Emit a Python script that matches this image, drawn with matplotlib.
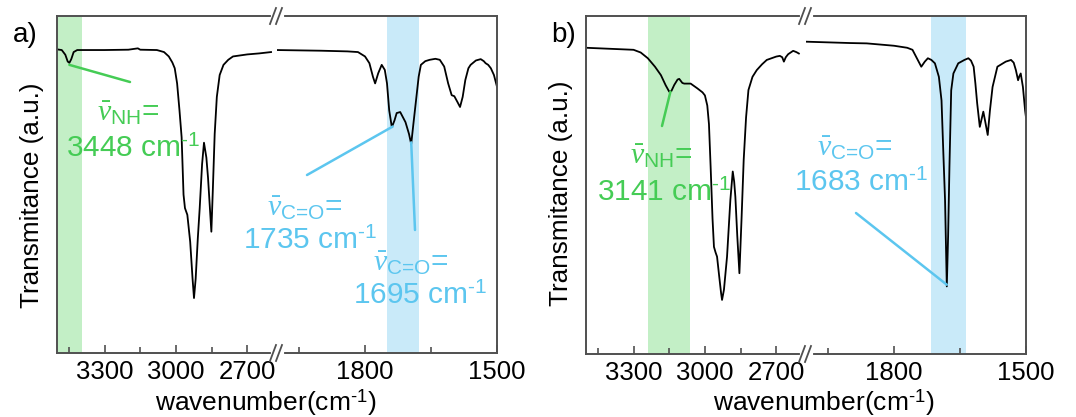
import matplotlib
matplotlib.use("Agg")
import matplotlib.pyplot as plt
from matplotlib.lines import Line2D
from matplotlib.transforms import IdentityTransform

plt.rcParams['font.family'] = ['Liberation Sans', 'DejaVu Sans']
plt.rcParams['mathtext.fontset'] = 'custom'
plt.rcParams['mathtext.rm'] = 'Liberation Sans'
plt.rcParams['mathtext.it'] = 'Liberation Serif:italic'
plt.rcParams['mathtext.bf'] = 'Liberation Sans:bold'

# ---------------- data ----------------
# panel a, high-wavenumber segment
a_wn_hi = [3500, 3480, 3465, 3455, 3448, 3440, 3430, 3415, 3300, 3200, 3160, 3150, 3080, 3050,
           3030, 3015, 3005, 2995, 2985, 2976, 2968, 2962, 2952, 2940, 2930, 2924, 2917, 2908,
           2900, 2890, 2882, 2872, 2865, 2858, 2851, 2845, 2837, 2828, 2816, 2800, 2780, 2760,
           2700, 2650, 2600]
a_t_hi = [0.901, 0.899, 0.885, 0.865, 0.861, 0.872, 0.893, 0.899, 0.899, 0.900, 0.904, 0.900,
          0.899, 0.893, 0.880, 0.862, 0.845, 0.800, 0.720, 0.640, 0.470, 0.430, 0.410, 0.330,
          0.220, 0.163, 0.220, 0.340, 0.430, 0.560, 0.624, 0.580, 0.520, 0.440, 0.360, 0.480,
          0.650, 0.760, 0.825, 0.855, 0.870, 0.880, 0.886, 0.889, 0.893]
# panel a, low-wavenumber segment
a_wn_lo = [2000, 1900, 1840, 1816, 1800, 1790, 1782, 1777, 1770, 1762, 1755, 1750, 1745, 1739,
           1733, 1728, 1720, 1716, 1708, 1700, 1695, 1690, 1684, 1678, 1673, 1663, 1653, 1640,
           1630, 1620, 1611, 1603, 1597, 1590, 1584, 1578, 1572, 1565, 1560, 1548, 1537, 1530,
           1526, 1520, 1514, 1507, 1500]
a_t_lo = [0.899, 0.897, 0.895, 0.893, 0.880, 0.860, 0.820, 0.800, 0.830, 0.855, 0.840, 0.800,
          0.720, 0.670, 0.690, 0.712, 0.715, 0.705, 0.685, 0.650, 0.620, 0.680, 0.750, 0.820,
          0.855, 0.866, 0.870, 0.873, 0.870, 0.850, 0.800, 0.765, 0.762, 0.745, 0.730, 0.760,
          0.810, 0.845, 0.855, 0.868, 0.872, 0.866, 0.860, 0.855, 0.845, 0.825, 0.790]
# panel b, high-wavenumber segment
b_wn_hi = [3500, 3400, 3300, 3270, 3240, 3210, 3185, 3165, 3150, 3141, 3129, 3115, 3108, 3095,
           3087, 3060, 3032, 3010, 3000, 2990, 2983, 2976, 2968, 2962, 2955, 2949, 2940, 2932,
           2928, 2920, 2907, 2893, 2883, 2877, 2872, 2864, 2855, 2846, 2837, 2827, 2817, 2800,
           2782, 2760, 2740, 2700, 2685, 2675, 2668, 2660, 2650, 2629, 2615, 2605]
b_t_hi = [0.906, 0.903, 0.900, 0.892, 0.875, 0.850, 0.825, 0.795, 0.776, 0.778, 0.796, 0.812,
          0.814, 0.802, 0.800, 0.800, 0.786, 0.774, 0.765, 0.735, 0.680, 0.554, 0.400, 0.317,
          0.300, 0.288, 0.230, 0.180, 0.160, 0.190, 0.288, 0.456, 0.540, 0.510, 0.465, 0.350,
          0.239, 0.400, 0.574, 0.700, 0.781, 0.820, 0.840, 0.857, 0.870, 0.880, 0.882, 0.878,
          0.865, 0.878, 0.887, 0.897, 0.893, 0.889]
# panel b, low-wavenumber segment
b_wn_lo = [2000, 1900, 1862, 1800, 1770, 1758, 1748, 1738, 1730, 1723, 1715, 1707, 1698, 1692,
           1688, 1684, 1680, 1677, 1674, 1670, 1665, 1654, 1640, 1631, 1625, 1619, 1615, 1611,
           1605, 1600, 1597, 1593, 1587, 1582, 1576, 1565, 1546, 1534, 1528, 1523, 1518, 1515,
           1512, 1507, 1502, 1500]
b_t_lo = [0.924, 0.920, 0.919, 0.912, 0.906, 0.900, 0.875, 0.850, 0.865, 0.875, 0.870, 0.860,
          0.820, 0.750, 0.600, 0.456, 0.200, 0.350, 0.554, 0.780, 0.830, 0.860, 0.870, 0.875,
          0.868, 0.850, 0.800, 0.742, 0.672, 0.700, 0.717, 0.690, 0.648, 0.720, 0.790, 0.850,
          0.865, 0.870, 0.862, 0.840, 0.810, 0.822, 0.830, 0.790, 0.720, 0.700]

xlim_hi = (3500, 2575)
xlim_lo = (2000, 1500)
major_hi = [3300, 3000, 2700]
minor_hi = [3450, 3150, 2850]
major_lo = [1800, 1500]
minor_lo = [1950, 1650]

# shaded bands (wavenumber ranges)
a_band_nh = (3500, 3395)
a_band_co = (1750, 1677)
b_band_nh = (3240, 3064)
b_band_co = (1717, 1636)

GREEN_BAND = '#c3efc6'
BLUE_BAND = '#c9eaf9'
GREEN = '#45cc55'
BLUE = '#5cc6ef'
FRAME = '#505050'

W, H = 1076, 417
fig = plt.figure(figsize=(W / 100, H / 100), dpi=100)


def px(x, y, w, h):
    return [x / W, 1 - (y + h) / H, w / W, h / H]


def make_panel(x0, y0, x1, y1):
    half = (x1 - x0) / 2
    axl = fig.add_axes(px(x0, y0, half, y1 - y0))
    axr = fig.add_axes(px(x0 + half, y0, half, y1 - y0))
    for ax in (axl, axr):
        for s in ax.spines.values():
            s.set_color(FRAME)
            s.set_linewidth(1.4)
        ax.set_ylim(0, 1)
        ax.set_yticks([])
        ax.tick_params(axis='x', which='both', direction='in', colors=FRAME,
                       labelcolor='black', labelsize=18.5, pad=5)
        ax.tick_params(axis='x', which='major', length=6, width=1.2)
        ax.tick_params(axis='x', which='minor', length=4, width=1.2)
    axl.spines['right'].set_visible(False)
    axr.spines['left'].set_visible(False)
    axl.set_xlim(*xlim_hi)
    axr.set_xlim(*xlim_lo)
    axl.set_xticks(major_hi)
    axl.set_xticks(minor_hi, minor=True)
    axr.set_xticks(major_lo)
    axr.set_xticks(minor_lo, minor=True)
    # break marks
    bx = x0 + half
    for yy in (y0, y1):
        yd = H - yy
        fig.add_artist(Line2D([bx - 4, bx + 5], [yd, yd], color='white', lw=3,
                              transform=IdentityTransform(), zorder=10))
        for dx in (-4, 2):
            fig.add_artist(Line2D([bx + dx - 3, bx + dx + 3], [yd - 8, yd + 8], color=FRAME,
                                  lw=1.3, transform=IdentityTransform(), zorder=11))
    return axl, axr


# ---------------- panel a ----------------
al, ar = make_panel(57, 16, 497, 353)
al.axvspan(*a_band_nh, color=GREEN_BAND, lw=0, zorder=0)
ar.axvspan(*a_band_co, color=BLUE_BAND, lw=0, zorder=0)
al.plot(a_wn_hi, a_t_hi, color='black', lw=1.3)
ar.plot(a_wn_lo, a_t_lo, color='black', lw=1.3)

# ---------------- panel b ----------------
bl, br = make_panel(586, 16, 1026, 354)
bl.axvspan(*b_band_nh, color=GREEN_BAND, lw=0, zorder=0)
br.axvspan(*b_band_co, color=BLUE_BAND, lw=0, zorder=0)
bl.plot(b_wn_hi, b_t_hi, color='black', lw=1.3)
br.plot(b_wn_lo, b_t_lo, color='black', lw=1.3)


def link(ax, xy, pxy, color):
    ax.annotate('', xy=xy, xycoords='data', xytext=(pxy[0], H - pxy[1]),
                textcoords='figure pixels',
                arrowprops=dict(arrowstyle='-', color=color, lw=1.8,
                                shrinkA=0, shrinkB=0), annotation_clip=False)


def label(x, y, s, color, size=21.5):
    fig.text(x / W, 1 - y / H, s, color=color, fontsize=size, ha='center', va='center')


NU_NH = r'$\bar{\nu}_{\text{NH}}$='
NU_CO = r'$\bar{\nu}_{\text{C=O}}$='
CM = r' cm$^{\text{-1}}$'

# panel a annotations
link(al, (3448, 0.855), (130, 82), GREEN)
label(128, 113, NU_NH, GREEN)
label(133, 149, '3448' + CM, GREEN)
link(ar, (1737, 0.672), (307, 175), BLUE)
label(305, 208, NU_CO, BLUE)
label(310, 241, '1735' + CM, BLUE)
link(ar, (1695, 0.625), (415, 230), BLUE)
label(411, 263, NU_CO, BLUE)
label(420, 296, '1695' + CM, BLUE)

# panel b annotations
link(bl, (3145, 0.776), (662, 126), GREEN)
label(661, 156, NU_NH, GREEN)
label(664, 193, '3141' + CM, GREEN)
link(br, (1680, 0.205), (856, 213), BLUE)
label(855, 148, NU_CO, BLUE)
label(861, 183, '1683' + CM, BLUE)

# axis labels and panel letters
for cx, letter, lx, yl_x, yl_y in ((266, 'a)', 25, 32, 195), (824, 'b)', 564, 561, 193)):
    fig.text(cx / W, 1 - 403 / H, r'wavenumber(cm$^{\text{-1}}$)', fontsize=19,
             ha='center', va='center')
    fig.text(lx / W, 1 - 35 / H, letter, fontsize=20, ha='center', va='center')
    fig.text(yl_x / W, 1 - yl_y / H, 'Transmitance (a.u.)', fontsize=18.8, rotation=90,
             ha='center', va='center')

fig.savefig('out.png', dpi=100)
